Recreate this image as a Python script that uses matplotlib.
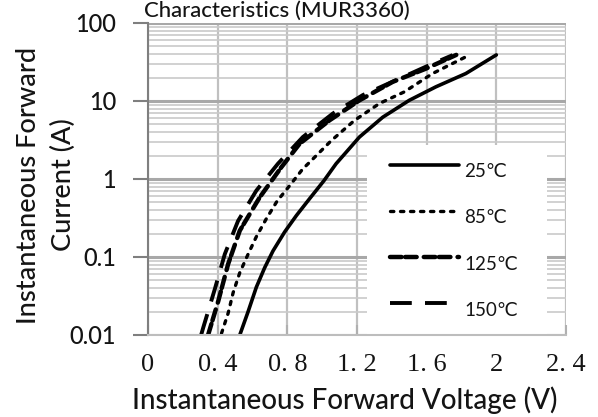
import matplotlib
matplotlib.use("Agg")
import matplotlib.pyplot as plt
import numpy as np
from matplotlib.patches import Rectangle
from matplotlib.legend_handler import HandlerLine2D

# forward characteristics (V, A)
v25 = [0.527, 0.575, 0.622, 0.67, 0.718, 0.785, 0.852, 0.928, 1.01, 1.08, 1.214, 1.348, 1.5, 1.653, 1.825, 2.0]
i25 = [0.01, 0.02, 0.041, 0.073, 0.12, 0.21, 0.34, 0.56, 0.95, 1.57, 3.45, 6.2, 10.2, 15.2, 22.5, 39]

v85 = [0.422, 0.46, 0.489, 0.527, 0.575, 0.622, 0.679, 0.741, 0.813, 0.889, 0.928, 1.052, 1.186, 1.329, 1.472, 1.634, 1.749, 1.844]
i85 = [0.0105, 0.019, 0.035, 0.063, 0.109, 0.182, 0.308, 0.52, 0.82, 1.35, 1.64, 3.1, 5.65, 9.3, 13.1, 22.5, 30.3, 38.7]

v125 = [0.345, 0.403, 0.46, 0.527, 0.641, 0.766, 0.871, 1.042, 1.214, 1.405, 1.596, 1.77]
i125 = [0.01, 0.027, 0.081, 0.218, 0.58, 1.42, 2.84, 5.65, 10.2, 17.6, 26, 39]

v150 = [0.305, 0.317, 0.384, 0.441, 0.517, 0.622, 0.746, 0.889, 1.061, 1.233, 1.424, 1.615, 1.749]
i150 = [0.01, 0.0124, 0.039, 0.109, 0.29, 0.71, 1.57, 3.45, 6.9, 11.9, 18.5, 28.8, 38.7]

xticks = [0, 0.4, 0.8, 1.2, 1.6, 2.0, 2.4]
xticklabels = ["0", "0. 4", "0. 8", "1. 2", "1. 6", "2", "2. 4"]
yticks = [0.01, 0.1, 1, 10, 100]
yticklabels = ["0.01", "0.1", "1", "10", "100"]

sans = ["Lato", "DejaVu Sans"]
txt = "#141414"
wt = "medium"


class RaisedLine(HandlerLine2D):
    # legend sample sits a little above the label text
    def create_artists(self, *args, **kw):
        arts = super().create_artists(*args, **kw)
        for a in arts:
            a.set_ydata(np.asarray(a.get_ydata()) + 4.5)
        return arts


fig = plt.figure(figsize=(5.98, 4.17), dpi=100)
ax = fig.add_axes([148/598, 1-335/417, 418/598, 312/417])

ax.set_yscale("log")
ax.set_xlim(0, 2.4)
ax.set_ylim(0.01, 100)
ax.set_axisbelow(True)

ax.plot(v25, i25, color="k", lw=2.6, label="25℃", solid_capstyle="round")
ax.plot(v85, i85, color="k", lw=2.4, linestyle=(0, (1, 2.0)), dash_capstyle="round", label="85℃")
ax.plot(v125, i125, color="k", lw=3.2, linestyle=(0, (2.6, 0.8, 2.6, 1.6)), dash_capstyle="round", label="125℃")
ax.plot(v150, i150, color="k", lw=2.8, linestyle=(0, (5.6, 3.4)), label="150℃")

# grid
ax.grid(True, which="major", axis="y", color="#a8a8a8", lw=2.2)
ax.grid(True, which="minor", axis="y", color="#cacaca", lw=1.2)
ax.grid(True, which="major", axis="x", color="#c0c0c0", lw=1.6)

ax.set_xticks(xticks, xticklabels, fontfamily="Liberation Serif", fontsize=19, color=txt)
ax.set_yticks(yticks, yticklabels, fontfamily=sans, fontsize=17, color=txt, fontweight=wt)
ax.yaxis.set_minor_formatter(plt.NullFormatter())
ax.tick_params(axis="y", which="major", direction="out", length=11, width=1.5, color="#7f7f7f", pad=12)
ax.tick_params(axis="y", which="minor", length=0)
ax.tick_params(axis="x", direction="in", length=7, width=1.5, color="#b0b0b0", pad=14)

for s in ["top", "right"]:
    ax.spines[s].set_visible(False)
ax.spines["left"].set_color("#7f7f7f")
ax.spines["left"].set_linewidth(1.5)
ax.spines["bottom"].set_color("#bdbdbd")
ax.spines["bottom"].set_linewidth(1.5)

# white legend area
ax.add_patch(Rectangle((0.525, 0.0), 0.43, 0.61, transform=ax.transAxes,
                       facecolor="white", edgecolor="none", zorder=1))

leg = ax.legend(loc="upper left", bbox_to_anchor=(0.579, 0.55), frameon=False,
                prop={"family": sans, "size": 13.5}, handlelength=3.7, handletextpad=0.25,
                labelspacing=1.55, borderpad=0, borderaxespad=0,
                handler_map={matplotlib.lines.Line2D: RaisedLine()})
for t in leg.get_texts():
    t.set_color(txt)

fig.text(46/598, 1-185/417, "Instantaneous Forward\nCurrent (A)", rotation=90,
         ha="center", va="center", fontfamily=sans, fontsize=19.5, color=txt,
         linespacing=1.45, fontweight=wt)
fig.text(345/598, 1-409/417, "Instantaneous Forward Voltage (V)", ha="center", va="baseline",
         fontfamily=sans, fontsize=20, color=txt, fontweight=wt)
fig.text(277/598, 1-1/417, "Characteristics (MUR3360)", ha="center", va="top",
         fontfamily=sans, fontsize=16, color=txt, fontweight=wt)

fig.savefig("out.png", dpi=100)
